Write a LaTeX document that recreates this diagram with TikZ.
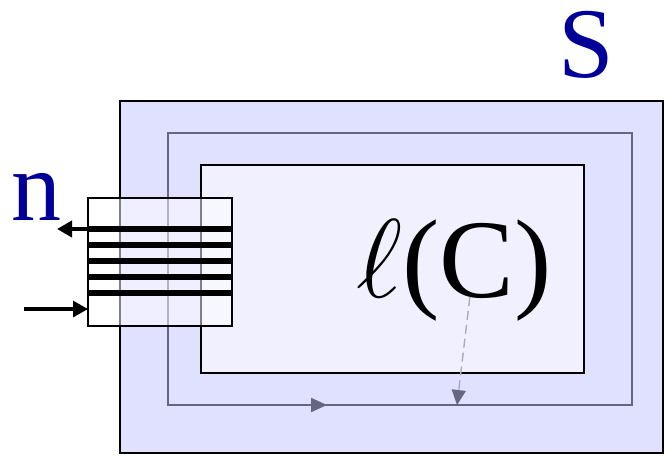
\documentclass[tikz,border=0pt]{standalone}
\usepackage{fix-cm}
\usepackage{fontspec}
\setmainfont{Liberation Serif}
\usetikzlibrary{arrows.meta,calc}
\definecolor{outerfill}{RGB}{224,224,255}
\definecolor{innerfill}{RGB}{240,240,255}
\definecolor{pathgrey}{RGB}{102,102,128}
\definecolor{dashgrey}{RGB}{170,170,185}
\definecolor{labelblue}{RGB}{0,0,153}
\begin{document}
\begin{tikzpicture}[x=1pt,y=-1pt,
  box/.style={draw, anchor=north west, inner sep=0pt, outer sep=0pt},
  coilline/.style={line width=5.6pt},
  bigtext/.style={inner sep=0pt, anchor=base west, font=\fontsize{#1}{#1}\selectfont},
  tip/.style={-{Triangle[length=15pt,width=16pt]}}
]
\useasboundingbox (0,0) rectangle (664,456);
\node[box, fill=outerfill, line width=1.6pt, minimum width=543pt, minimum height=352pt] (outer) at (120,101) {};
\node[box, draw=pathgrey, line width=2pt, minimum width=464pt, minimum height=272pt] (loop) at (168,133) {};
\node[box, fill=innerfill, line width=2pt, minimum width=383pt, minimum height=208pt] (inner) at (201,165) {};
\node[box, fill=white, fill opacity=0.5, line width=1.6pt, minimum width=144pt, minimum height=128pt] (coil) at (88,198) {};
\foreach \yy in {229,245,261,277,293}
  \draw[coilline] (coil.west |- 0,\yy) -- (coil.east |- 0,\yy);
\coordinate (outend) at (57,229);
\coordinate (instart) at (24,309);
\draw[line width=4pt, tip] (coil.west |- outend) -- (outend);
\draw[line width=3.2pt, tip] (instart) -- (coil.west |- instart);
\node[bigtext=100, labelblue] (S) at (558,77) {S};
\node[bigtext=100, labelblue] (n) at (11,220) {n};
\node[bigtext=112] (lab) at (356,297) {$\ell$(C)};
\coordinate (dashstart) at ($(lab.base)+(16,0)$);
\coordinate (dashend) at (457,405);
\draw[dashgrey, line width=1.4pt, dash pattern=on 9pt off 5pt,
  -{Triangle[length=15pt,width=14pt,color=pathgrey,fill=pathgrey]}] (dashstart) -- (dashend);
\draw[pathgrey, line width=2pt, -{Triangle[length=16pt,width=14pt]}]
  (loop.south west) -- ($(loop.south west)+(159,0)$);
\end{tikzpicture}
\end{document}
